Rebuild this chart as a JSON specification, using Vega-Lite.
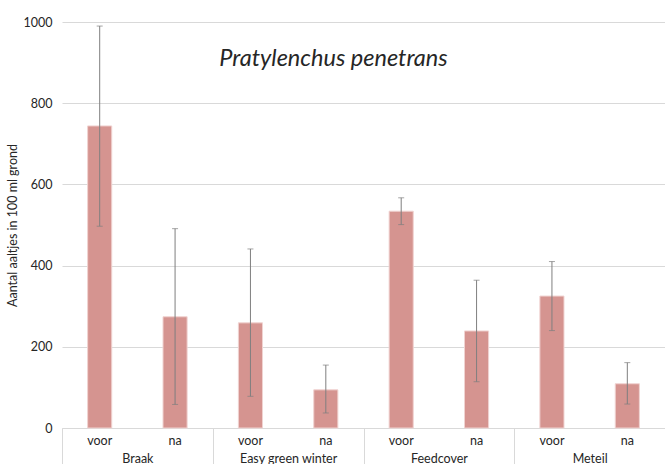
{
  "$schema": "https://vega.github.io/schema/vega-lite/v6.json",
  "autosize": {"type": "none"},
  "padding": {"left": 62, "top": 22, "right": 0, "bottom": 36},
  "width": 603,
  "height": 406,
  "background": "white",
  "config": {
    "font": "Lato",
    "view": {"stroke": null},
    "axis": {"labelFont": "Lato", "titleFont": "Lato", "labelColor": "#262626", "titleColor": "#262626"}
  },
  "title": {
    "text": "Pratylenchus penetrans",
    "font": "Lato",
    "fontStyle": "italic",
    "fontWeight": "normal",
    "fontSize": 23.5,
    "color": "#262626",
    "anchor": "middle",
    "frame": "group",
    "offset": -54,
    "dx": -30
  },
  "data": {
    "values": [
      {"group": "Braak", "period": "voor", "key": "Braak|voor", "value": 744, "lo": 497, "hi": 990},
      {"group": "Braak", "period": "na", "key": "Braak|na", "value": 274, "lo": 58, "hi": 491},
      {"group": "Easy green winter", "period": "voor", "key": "Easy green winter|voor", "value": 259, "lo": 78, "hi": 441},
      {"group": "Easy green winter", "period": "na", "key": "Easy green winter|na", "value": 94, "lo": 37, "hi": 155},
      {"group": "Feedcover", "period": "voor", "key": "Feedcover|voor", "value": 534, "lo": 501, "hi": 567},
      {"group": "Feedcover", "period": "na", "key": "Feedcover|na", "value": 239, "lo": 114, "hi": 364},
      {"group": "Meteil", "period": "voor", "key": "Meteil|voor", "value": 325, "lo": 240, "hi": 410},
      {"group": "Meteil", "period": "na", "key": "Meteil|na", "value": 109, "lo": 59, "hi": 161}
    ]
  },
  "layer": [
    {
      "layer": [
        {
          "mark": {"type": "bar", "color": "#d59490", "stroke": "#f0d3d1", "strokeWidth": 1, "width": {"band": 0.32}},
          "encoding": {
            "x": {
              "field": "key", "type": "nominal", "sort": null,
              "scale": {"paddingInner": 0, "paddingOuter": 0},
              "axis": {
                "orient": "bottom", "title": null, "labelAngle": 0,
                "labelExpr": "split(datum.label, '|')[1]",
                "ticks": false, "tickSize": 0, "domainColor": "#d9d9d9", "domainWidth": 1,
                "labelPadding": 6, "labelFontSize": 12.5, "grid": false
              }
            },
            "y": {
              "field": "value", "type": "quantitative",
              "scale": {"domain": [0, 1000], "nice": false},
              "axis": {
                "title": "Aantal aaltjes in 100 ml grond",
                "titleFontSize": 12.5, "titleFontWeight": "normal", "titlePadding": 4,
                "values": [0, 200, 400, 600, 800, 1000], "format": "d",
                "labelFontSize": 12.5, "labelPadding": 10,
                "domain": false, "ticks": false,
                "gridColor": "#d9d9d9", "gridWidth": 1
              }
            }
          }
        },
        {
          "mark": {"type": "rule", "color": "#7f7f7f", "strokeWidth": 1},
          "encoding": {
            "x": {"field": "key", "type": "nominal", "sort": null},
            "y": {"field": "lo", "type": "quantitative"},
            "y2": {"field": "hi"}
          }
        },
        {
          "mark": {"type": "tick", "color": "#7f7f7f", "orient": "horizontal", "size": 6, "thickness": 1},
          "encoding": {
            "x": {"field": "key", "type": "nominal", "sort": null},
            "y": {"field": "lo", "type": "quantitative"}
          }
        },
        {
          "mark": {"type": "tick", "color": "#7f7f7f", "orient": "horizontal", "size": 6, "thickness": 1},
          "encoding": {
            "x": {"field": "key", "type": "nominal", "sort": null},
            "y": {"field": "hi", "type": "quantitative"}
          }
        }
      ]
    },
    {
      "mark": {"type": "point", "opacity": 0},
      "encoding": {
        "x": {
          "field": "group", "type": "nominal", "sort": null,
          "scale": {"paddingInner": 0, "paddingOuter": 0},
          "axis": {
            "orient": "bottom", "title": null, "labelAngle": 0,
            "domain": false, "tickBand": "extent", "tickSize": 40,
            "tickColor": "#d9d9d9", "tickWidth": 1,
            "labelPadding": -16, "labelFontSize": 12.5, "grid": false
          }
        }
      }
    }
  ],
  "resolve": {"scale": {"x": "independent"}, "axis": {"x": "independent"}}
}
